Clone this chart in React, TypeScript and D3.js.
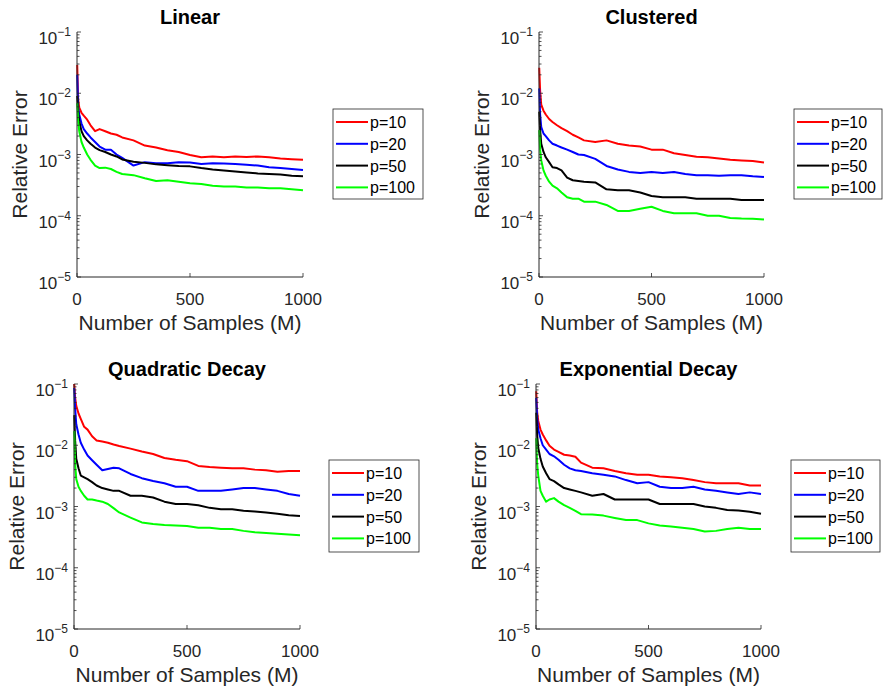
import React from 'react';
import * as d3 from 'd3';

const samples = [1, 5, 10, 20, 30, 45, 60, 80, 100, 125, 150, 175, 200, 250, 300, 350, 400, 450, 500, 550, 600, 650, 700, 750, 800, 850, 900, 950, 1000];

const seriesNames = ['p=10', 'p=20', 'p=50', 'p=100'];
const seriesColors = ['#ff0000', '#0000ff', '#000000', '#00ff00'];

const panelTitles = ['Linear', 'Clustered', 'Quadratic Decay', 'Exponential Decay'];
const xTicks = [0, 500, 1000];
const yExponents = [-1, -2, -3, -4, -5];

// Linear
const linearP10 = [0.029, 0.008, 0.0058, 0.0048, 0.0043, 0.0037, 0.003, 0.0024, 0.0026, 0.0024, 0.0022, 0.0021, 0.0019, 0.0017, 0.0014, 0.0013, 0.00117, 0.0011, 0.00098, 0.0009, 0.00093, 0.0009, 0.00093, 0.00091, 0.00093, 0.0009, 0.00086, 0.00084, 0.00082];
const linearP20 = [0.02, 0.006, 0.0045, 0.0032, 0.0026, 0.0022, 0.0019, 0.0016, 0.00135, 0.0012, 0.0012, 0.001, 0.00088, 0.00066, 0.00075, 0.00072, 0.00072, 0.00075, 0.00074, 0.0007, 0.00072, 0.00071, 0.0007, 0.00068, 0.00066, 0.00062, 0.0006, 0.00058, 0.00056];
const linearP50 = [0.009, 0.005, 0.0035, 0.0024, 0.002, 0.0017, 0.0015, 0.0013, 0.00118, 0.0011, 0.001, 0.00093, 0.00083, 0.00076, 0.00073, 0.00069, 0.00067, 0.00065, 0.00064, 0.0006, 0.00057, 0.00055, 0.00053, 0.00051, 0.00049, 0.00048, 0.00047, 0.00045, 0.00044];
const linearP100 = [0.0069, 0.0035, 0.0024, 0.0016, 0.0013, 0.001, 0.00082, 0.00066, 0.0006, 0.00061, 0.00058, 0.00052, 0.00048, 0.00046, 0.00041, 0.00037, 0.00038, 0.00036, 0.00034, 0.00033, 0.00031, 0.0003, 0.0003, 0.00029, 0.00029, 0.00028, 0.00028, 0.00027, 0.00026];

// Clustered
const clusteredP10 = [0.026, 0.011, 0.0065, 0.0052, 0.0045, 0.0038, 0.0034, 0.003, 0.0027, 0.0024, 0.0021, 0.0019, 0.0017, 0.0016, 0.0017, 0.0015, 0.0014, 0.00135, 0.0012, 0.0012, 0.00105, 0.00098, 0.00092, 0.0009, 0.00086, 0.00082, 0.0008, 0.00078, 0.00074];
const clusteredP20 = [0.012, 0.0045, 0.0028, 0.0022, 0.002, 0.0017, 0.0015, 0.0014, 0.0013, 0.0012, 0.0011, 0.001, 0.00098, 0.00085, 0.00065, 0.00057, 0.00052, 0.0005, 0.00052, 0.0005, 0.00052, 0.00048, 0.00046, 0.00046, 0.00045, 0.00046, 0.00046, 0.00044, 0.00043];
const clusteredP50 = [0.005, 0.0025, 0.0015, 0.0011, 0.0009, 0.00075, 0.00062, 0.0006, 0.00055, 0.00042, 0.00038, 0.00037, 0.00036, 0.00035, 0.00027, 0.00026, 0.00026, 0.00024, 0.00021, 0.0002, 0.0002, 0.0002, 0.00019, 0.00019, 0.00019, 0.00019, 0.00018, 0.00018, 0.00018];
const clusteredP100 = [0.0025, 0.0012, 0.0008, 0.00055, 0.00045, 0.00036, 0.00031, 0.00028, 0.00024, 0.0002, 0.00019, 0.00019, 0.00017, 0.00017, 0.00015, 0.00012, 0.00012, 0.00013, 0.00014, 0.00012, 0.00011, 0.00011, 0.00011, 0.0001, 0.0001, 0.000092, 0.00009, 0.000089, 0.000087];

// Quadratic Decay
const quadraticP10 = [0.1, 0.06, 0.044, 0.033, 0.027, 0.02, 0.018, 0.014, 0.012, 0.0115, 0.011, 0.0103, 0.0097, 0.0088, 0.0079, 0.0072, 0.0062, 0.0058, 0.0055, 0.0046, 0.0044, 0.0043, 0.0042, 0.0042, 0.004, 0.0039, 0.0037, 0.0038, 0.0038];
const quadraticP20 = [0.086, 0.04, 0.022, 0.015, 0.011, 0.0085, 0.0068, 0.0057, 0.0048, 0.0039, 0.0041, 0.0043, 0.0042, 0.0034, 0.0029, 0.0026, 0.0024, 0.0021, 0.0021, 0.0018, 0.0018, 0.0018, 0.0019, 0.002, 0.002, 0.0019, 0.0018, 0.0016, 0.0015];
const quadraticP50 = [0.031, 0.012, 0.006, 0.0042, 0.0032, 0.003, 0.0028, 0.0025, 0.0022, 0.002, 0.0019, 0.0018, 0.0018, 0.0015, 0.0015, 0.0014, 0.0012, 0.0011, 0.0011, 0.00105, 0.00095, 0.0009, 0.0009, 0.00085, 0.00083, 0.0008, 0.00076, 0.00072, 0.0007];
const quadraticP100 = [0.017, 0.005, 0.0028, 0.0021, 0.0018, 0.0015, 0.0013, 0.0013, 0.00125, 0.0012, 0.0011, 0.00094, 0.0008, 0.00066, 0.00055, 0.00052, 0.0005, 0.00049, 0.00048, 0.00045, 0.00045, 0.00043, 0.00043, 0.0004, 0.00038, 0.00037, 0.00036, 0.00035, 0.00034];

// Exponential Decay
const exponentialP10 = [0.076, 0.035, 0.025, 0.018, 0.015, 0.012, 0.0098, 0.0085, 0.0078, 0.007, 0.0068, 0.0065, 0.0052, 0.0043, 0.0042, 0.0038, 0.0035, 0.0033, 0.0033, 0.0031, 0.003, 0.0029, 0.0027, 0.0025, 0.0024, 0.0024, 0.0024, 0.0022, 0.0022];
const exponentialP20 = [0.059, 0.028, 0.018, 0.013, 0.01, 0.0085, 0.0072, 0.0066, 0.0058, 0.0048, 0.0042, 0.0039, 0.0038, 0.0035, 0.0033, 0.0031, 0.0027, 0.0024, 0.0025, 0.0021, 0.002, 0.002, 0.0021, 0.0019, 0.0018, 0.0017, 0.0016, 0.0017, 0.0016];
const exponentialP50 = [0.034, 0.015, 0.009, 0.006, 0.0045, 0.0035, 0.0028, 0.0026, 0.0023, 0.002, 0.0019, 0.0018, 0.0017, 0.0015, 0.0016, 0.0013, 0.0013, 0.0013, 0.0013, 0.0011, 0.0011, 0.0011, 0.0011, 0.001, 0.00095, 0.00088, 0.00086, 0.00082, 0.00076];
const exponentialP100 = [0.013, 0.005, 0.0032, 0.0018, 0.0015, 0.0012, 0.0013, 0.00137, 0.0012, 0.00105, 0.00095, 0.00085, 0.00075, 0.00074, 0.00071, 0.00065, 0.0006, 0.0006, 0.00053, 0.00049, 0.00047, 0.00045, 0.00043, 0.00039, 0.0004, 0.00043, 0.00045, 0.00043, 0.00043];

const panelSeries = [
  [linearP10, linearP20, linearP50, linearP100],
  [clusteredP10, clusteredP20, clusteredP50, clusteredP100],
  [quadraticP10, quadraticP20, quadraticP50, quadraticP100],
  [exponentialP10, exponentialP20, exponentialP50, exponentialP100],
];

const layout = [
  { x0: 77, x1: 303, y0: 32, y1: 277, lx: 333, ly: 109, lw: 90, lh: 90 },
  { x0: 539, x1: 764, y0: 32, y1: 277, lx: 794, ly: 109, lw: 88, lh: 90 },
  { x0: 74, x1: 300, y0: 384, y1: 629, lx: 329, ly: 460, lw: 90, lh: 92 },
  { x0: 536, x1: 761, y0: 384, y1: 629, lx: 791, ly: 460, lw: 89, lh: 92 },
];

const font = '"Liberation Sans", Arial, Helvetica, sans-serif';
const axisColor = '#262626';

function Panel({ idx }: { idx: number }) {
  const L = layout[idx];
  const x = d3.scaleLinear().domain([0, 1000]).range([L.x0, L.x1]);
  const y = d3.scaleLog().domain([1e-5, 1e-1]).range([L.y1, L.y0]);
  const line = d3.line<number>()
    .x((_, i) => x(samples[i]))
    .y(d => y(d));

  const minorTicks: number[] = [];
  for (let e = -5; e < -1; e++) {
    for (let m = 2; m <= 9; m++) minorTicks.push(m * Math.pow(10, e));
  }

  return (
    <g>
      <text x={(L.x0 + L.x1) / 2} y={L.y0 - 8} textAnchor="middle" fontSize={20} fontWeight="bold" fill="#000">
        {panelTitles[idx]}
      </text>

      {panelSeries[idx].map((vals, s) => (
        <path key={s} d={line(vals) || ''} fill="none" stroke={seriesColors[s]} strokeWidth={2} strokeLinejoin="round" />
      ))}

      {/* axes */}
      <line x1={L.x0} x2={L.x0} y1={L.y0} y2={L.y1} stroke={axisColor} strokeWidth={1} />
      <line x1={L.x0} x2={L.x1} y1={L.y1} y2={L.y1} stroke={axisColor} strokeWidth={1} />

      {minorTicks.map((v, i) => (
        <line key={'m' + i} x1={L.x0} x2={L.x0 + 2.5} y1={y(v)} y2={y(v)} stroke={axisColor} strokeWidth={0.8} />
      ))}
      {yExponents.map(e => (
        <g key={'y' + e}>
          <line x1={L.x0} x2={L.x0 + 4} y1={y(Math.pow(10, e))} y2={y(Math.pow(10, e))} stroke={axisColor} strokeWidth={0.8} />
          <text x={L.x0 - 6} y={y(Math.pow(10, e)) + 12} textAnchor="end" fontSize={17} fill={axisColor}>
            10<tspan dy={-8} fontSize={12}>{'\u2212' + Math.abs(e)}</tspan>
          </text>
        </g>
      ))}
      {xTicks.map(t => (
        <g key={'x' + t}>
          <line x1={x(t)} x2={x(t)} y1={L.y1} y2={L.y1 - 4} stroke={axisColor} strokeWidth={0.8} />
          <text x={x(t)} y={L.y1 + 28} textAnchor="middle" fontSize={17} fill={axisColor}>{t}</text>
        </g>
      ))}

      <text x={(L.x0 + L.x1) / 2} y={L.y1 + 53} textAnchor="middle" fontSize={21} fill={axisColor}>
        Number of Samples (M)
      </text>
      <text transform={`translate(${L.x0 - 50},${(L.y0 + L.y1) / 2}) rotate(-90)`} textAnchor="middle" fontSize={21} fill={axisColor}>
        Relative Error
      </text>

      {/* legend */}
      <rect x={L.lx} y={L.ly} width={L.lw} height={L.lh} fill="#fff" stroke={axisColor} strokeWidth={0.8} />
      {seriesNames.map((name, s) => {
        const ry = L.ly + 13 + s * 21.8;
        return (
          <g key={name}>
            <line x1={L.lx + 3} x2={L.lx + 35} y1={ry} y2={ry} stroke={seriesColors[s]} strokeWidth={2} />
            <text x={L.lx + 37} y={ry + 6} fontSize={16} fill="#000">{name}</text>
          </g>
        );
      })}
    </g>
  );
}

export default function App() {
  return (
    <svg width={883} height={690} style={{ position: 'absolute', left: 0, top: 0, background: '#fff' }} fontFamily={font}>
      <rect width={883} height={690} fill="#fff" />
      {[0, 1, 2, 3].map(i => <Panel key={i} idx={i} />)}
    </svg>
  );
}
